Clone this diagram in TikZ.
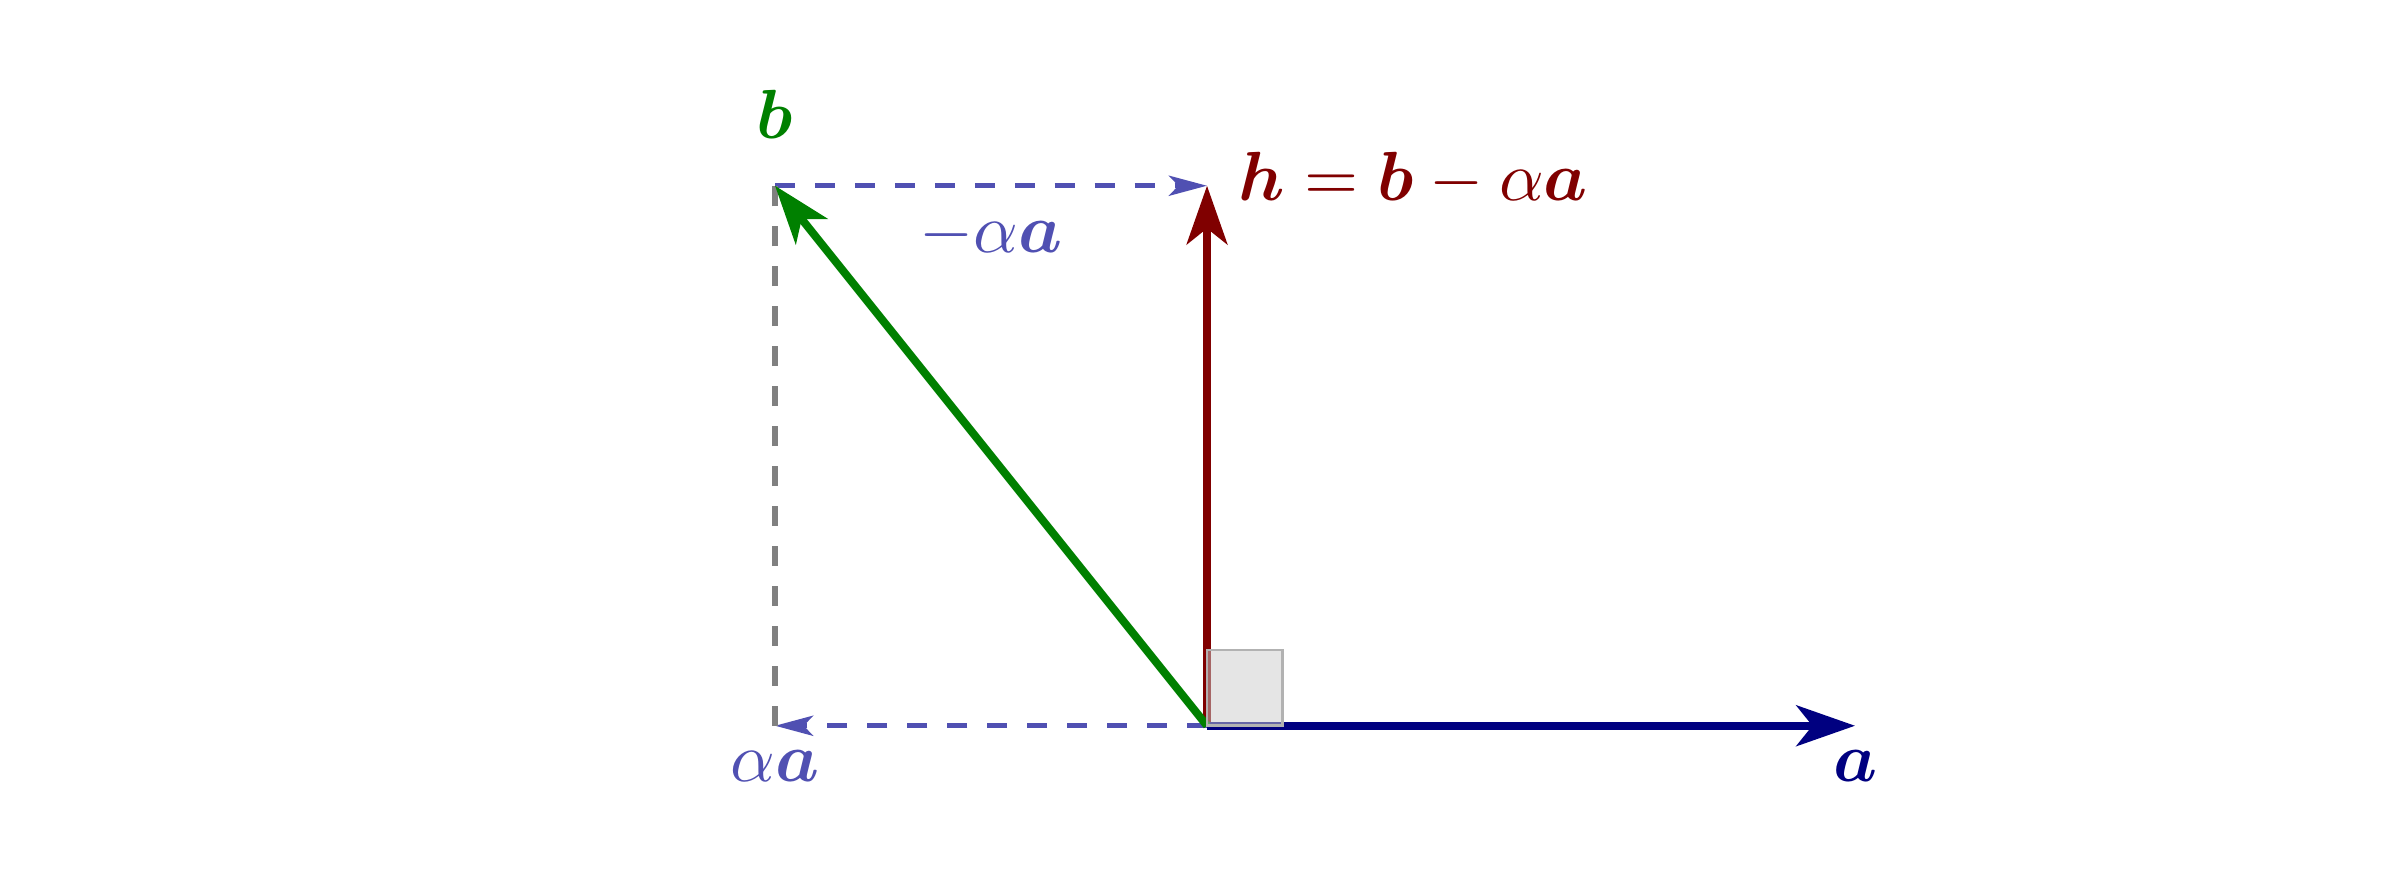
\documentclass[tikz,border=0pt]{standalone}
\usepackage{bm}
\usetikzlibrary{arrows.meta}

\definecolor{vecnavy}{RGB}{0,0,128}
\definecolor{vecgreen}{RGB}{0,128,0}
\definecolor{vecred}{RGB}{128,0,0}
\definecolor{projblue}{RGB}{80,80,178}

\begin{document}
\begin{tikzpicture}[
    x=1.14cm, y=1.14cm,
    vec_arrow/.style={-{Stealth[length=8.8pt, width=6.1pt, inset=2.4pt]}, line width=1.2pt},
    proj_arrow/.style={-{Stealth[length=5.7pt, width=3pt, inset=1.4pt]}, thick, dashed, draw=projblue},
    drop_line/.style={thick, dashed, draw=gray},
    right_angle/.style={draw=gray!60, thin, fill=gray!40, fill opacity=0.5},
    label/.style={inner sep=3.33pt, scale=1.045}
]
    \useasboundingbox (-5.588,-0.779) rectangle (5.523,3.360);
    % Points
    \coordinate (O) at (0,0);
    \coordinate (A) at (3,0);
    \coordinate (B) at (-2,2.5);
    \coordinate (H) at (0,2.5);
    \coordinate (P) at (-2,0);
    \coordinate (Q) at (0.35,0.35);
    % Projections
    \draw[proj_arrow] (B) -- (H) node[midway, below, label, text=projblue] (minus) {$-\alpha\bm{a}$};
    \draw[proj_arrow] (O) -- (P);
    \draw[drop_line] (P) -- (B);
    % Vectors
    \draw[vec_arrow, draw=vecred, fill=vecred] (O) -- (H);
    \draw[vec_arrow, draw=vecnavy, fill=vecnavy] (O) -- (A);
    \draw[vec_arrow, draw=vecgreen, fill=vecgreen] (O) -- (B);
    % Right angle
    \draw[right_angle] (O) rectangle (Q);
    % Labels
    \node[label, below, text=projblue] (alpha) at (P) {$\alpha\bm{a}$};
    \node[label, below, text=vecnavy] (alab) at (A) {$\bm{a}$};
    \node[label, above=3.3pt, text=vecgreen] (blab) at (B) {$\bm{b}$};
    \node[label, right=1pt, yshift=1pt, text=vecred] (hlab) at (H) {$\bm{h}=\bm{b}-\alpha\bm{a}$};
\end{tikzpicture}
\end{document}
